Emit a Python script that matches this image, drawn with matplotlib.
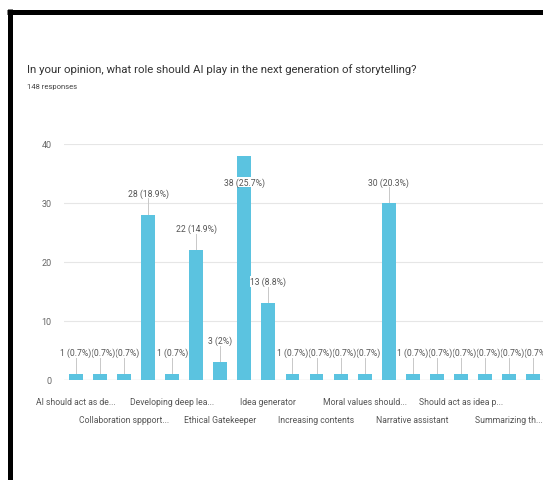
import matplotlib
matplotlib.use("Agg")
import matplotlib.pyplot as plt
from matplotlib.lines import Line2D
from matplotlib import font_manager

# Данные опроса (20 вариантов, подписи видны у каждого второго)
values = [1, 1, 1, 28, 1, 22, 3, 38, 13, 1, 1, 1, 1, 30, 1, 1, 1, 1, 1, 1]
total = 148
tick_labels = ["AI should act as de...", "Collaboration sppport...", "Developing deep lea...",
               "Ethical Gatekeeper", "Idea generator", "Increasing contents",
               "Moral values should...", "Narrative assistant", "Should act as idea p...",
               "Summarizing th..."]
yticks = [0, 10, 20, 30, 40]

title = "In your opinion, what role should AI play in the next generation of storytelling?"
subtitle = f"{total} responses"

names = {f.name for f in font_manager.fontManager.ttflist}
fam = ["Liberation Sans Narrow"] if "Liberation Sans Narrow" in names else ["Roboto"]
plt.rcParams["font.family"] = fam + ["DejaVu Sans"]

bar_color = "#5bc3e0"
text_color = "#555555"

fig = plt.figure(figsize=(5.43, 4.81), dpi=100)
fig.patch.set_facecolor("white")
ax = fig.add_axes([64 / 543, 1 - 381 / 481, 481 / 543, 236 / 481])

x = list(range(len(values)))
ax.bar(x, values, width=0.58, color=bar_color, zorder=3)

ax.set_xlim(-0.5, len(values) - 0.5)
ax.set_ylim(0, 40)
ax.set_yticks(yticks)
ax.set_yticklabels([str(t) for t in yticks], fontsize=6.5, color="#666666")
ax.tick_params(axis="y", length=0, pad=9)
ax.set_xticks([])
for s in ax.spines.values():
    s.set_visible(False)
ax.grid(axis="y", color="#e6e6e6", linewidth=0.8, zorder=0)
ax.axhline(0, color="#b0b0b0", linewidth=0.8, zorder=2)

# подписи значений с выносными линиями
for i, v in enumerate(values):
    pct = round(v / total * 100, 1)
    pct_s = f"{pct:g}"
    ly = min(v + 3.7, 33.6)
    if ly > v:
        ax.plot([i, i], [v, ly - 0.9], color="#c8c8c8", linewidth=0.7, zorder=2)
    ax.text(i, ly, f"{v} ({pct_s}%)", ha="center", va="center", fontsize=6.2,
            color=text_color, zorder=100 - i,
            bbox=dict(boxstyle="square,pad=0.05", fc="white", ec="none"))

# подписи категорий в два ряда
tr = ax.get_xaxis_transform()
for k, lab in enumerate(tick_labels):
    row_y = -0.089 if k % 2 == 0 else -0.169
    ax.text(2 * k, row_y, lab, transform=tr, ha="center", va="center",
            fontsize=6.2, color=text_color, clip_on=False)

fig.text(27 / 543, 1 - 70 / 481, title, fontsize=8.2, color="#333333", va="center")
fig.text(27 / 543, 1 - 87 / 481, subtitle, fontsize=5.5, color="#444444", va="center")

# чёрная рамка скриншота
fig.add_artist(Line2D([7 / 543, 1.0], [1 - 12.5 / 481] * 2, transform=fig.transFigure,
                      color="black", linewidth=3.6, solid_capstyle="butt"))
fig.add_artist(Line2D([9.5 / 543] * 2, [0, 1 - 10 / 481], transform=fig.transFigure,
                      color="black", linewidth=3.6, solid_capstyle="butt"))

fig.savefig("out.png", dpi=100)
